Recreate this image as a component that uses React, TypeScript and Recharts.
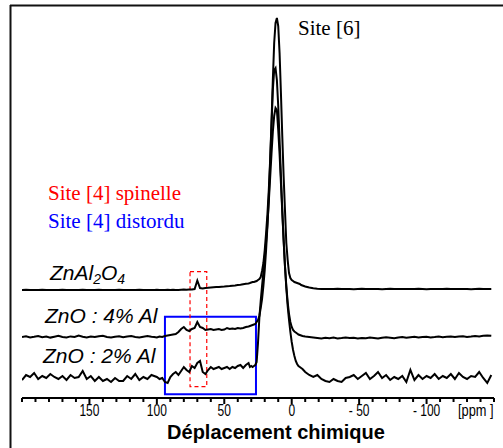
import { LineChart, Line, XAxis, YAxis, ReferenceArea } from "recharts";

// chemical shift grid (ppm), coarse on the baselines, 1 ppm across the main peak
const ppm = [
  200, 197, 194, 191, 188, 185, 182, 179, 176, 173, 170, 167, 164, 161, 158, 155, 152,
  149, 146, 143, 140, 137, 134, 131, 128, 125, 122, 119, 116, 113, 110, 107, 104,
  102, 100, 98, 96, 94, 92, 90, 88, 86, 84, 82, 80, 78, 76, 74, 72, 70, 68, 66, 64,
  62, 60, 58, 56, 54, 52, 50, 48, 46, 44, 42, 40, 38, 36, 34, 32,
  31, 30, 29, 28, 27, 26, 25, 24, 23, 22, 21, 20, 19, 18, 17, 16, 15, 14, 13, 12, 11,
  10, 9, 8, 7, 6, 5, 4, 3, 2, 1, 0, -1, -2, -3, -4, -5, -6, -7, -8,
  -10, -13, -16, -19, -22, -25, -28, -31, -34, -37, -40, -43, -46, -49, -52, -55,
  -58, -61, -64, -67, -70, -73, -76, -79, -82, -85, -88, -91, -94, -97, -100, -103,
  -106, -109, -112, -115, -118, -121, -124, -127, -130, -133, -136, -139, -142,
  -145, -148,
];

// stacked spectra (arbitrary intensity, offsets included)
const znAl2O4 = [
  108, 108.2, 107.9, 108.1, 108, 108.2, 107.9, 108, 108.1, 107.9, 108.2, 108, 108.1,
  107.9, 108, 108.2, 108.1, 107.9, 108, 108.2, 108, 107.9, 108.1, 108, 108.2, 107.9,
  108, 108.1, 108, 108.2, 107.9, 108.1, 108,
  108, 108.3, 107.9, 108.1, 108, 108.2, 108, 108.3, 108.1, 108, 108.2, 108.4, 108.3,
  108.5, 108.6, 109, 117.5, 110, 109.5, 110, 110.2, 110.5, 110.8, 111, 111, 111.3,
  111.5, 111.8, 112, 112.3, 112.6, 113, 113.3, 113.8, 114.2, 114.6,
  115, 115.5, 116, 116, 116.5, 117, 118, 119, 121, 127, 135, 148, 165, 184, 208, 238,
  275, 318, 355, 375, 380, 372, 345, 305, 262, 222, 188, 155, 138, 125, 120, 118, 117,
  116, 115.5, 115, 114.5, 114, 113, 112.5,
  111.5, 110.5, 109.8, 109.3, 109, 109.1, 108.9, 109, 109.2, 108.9, 109, 109.1, 108.8,
  109, 109.2, 109, 108.9, 109.1, 109, 108.8, 109, 109.2, 109, 108.9, 109, 109.1, 108.9,
  109, 109.2, 109, 108.8, 109, 109.1, 109, 108.9, 109.2, 109, 108.9, 109, 109.1, 109,
  108.8, 109, 109.2, 109, 108.9, 109,
];

const zno4Al = [
  61, 61.8, 60.6, 61.2, 62, 60.8, 61.5, 60.4, 61.3, 62.2, 61, 60.5, 61.6, 61, 62.4,
  61.2, 60.6, 61.5, 60.9, 61.7, 62.3, 61, 60.4, 61.2, 61.8, 60.7, 61.4, 62, 61.1, 60.6,
  61.3, 61.9, 61.2,
  61, 60.5, 61.5, 61, 62, 62.5, 63, 63.5, 64, 66, 69, 71, 68, 67, 69, 70, 76, 71, 70,
  68, 68.5, 69, 68, 68.5, 69, 68, 68.5, 70, 69, 69.5, 69, 70, 69.5, 70, 71, 71.5,
  72, 72.5, 73, 73.5, 74, 76, 78, 82, 90, 99, 112, 128, 148, 172, 200, 235, 272, 308,
  328, 330, 318, 292, 258, 222, 188, 158, 132, 112, 96, 84, 76, 71, 68, 66.5, 65.5,
  64.5, 63.5, 63, 62.5, 62,
  61.5, 61, 60.5, 60, 59.5, 60.2, 59.8, 60.4, 59.6, 60, 60.6, 59.9, 60.3, 59.5, 60.1,
  59.7, 60.4, 60, 59.4, 60.2, 60.8, 60.3, 59.8, 60.5, 61, 60.2, 60.7, 61.2, 60.4, 60.9,
  61.3, 60.6, 61, 61.5, 60.8, 61.2, 61.6, 60.9, 61.4, 61.8, 61.1, 61.5, 62, 61.6, 62.2,
  62.6, 62.3,
];

const zno2Al = [
  18, 23, 21, 25, 19, 22, 20, 24, 21, 19, 22, 18, 23, 20, 21, 27, 19, 22, 17, 21, 17,
  19, 16, 20, 17, 17, 22, 19, 24, 18, 21, 19, 23,
  22, 21, 19, 20, 16, 15, 21, 24, 26, 23, 27, 31, 28, 26, 32, 30, 35, 37, 26, 24, 28,
  31, 29, 30, 31, 29, 30, 31, 29, 31, 30, 32, 33, 30, 33, 35,
  31, 32, 31, 32, 33, 36, 55, 80, 97, 112, 126, 140, 156, 174, 196, 220, 244, 266, 282,
  290, 288, 268, 244, 215, 186, 158, 132, 110, 92, 78, 66, 56, 48, 42, 37, 34, 32, 31,
  30, 29,
  26, 23, 21, 23, 19, 17, 16, 19, 17, 16, 20, 21, 23, 19, 22, 25, 19, 22, 26, 20, 23,
  18, 21, 19, 22, 16, 28, 18, 23, 19, 22, 20, 24, 19, 22, 20, 24, 19, 25, 21, 19, 22,
  21, 26, 20, 15, 23,
];

const axisTicks = [
  200, 190, 180, 170, 160, 150, 140, 130, 120, 110, 100, 90, 80, 70, 60, 50, 40, 30,
  20, 10, 0, -10, -20, -30, -40, -50, -60, -70, -80, -90, -100, -110, -120, -130,
  -140, -150,
];
const labelledTicks = [150, 100, 50, 0, -50, -100];
const tickLabels = ["150", "100", "50", "0", "- 50", "- 100"];

const data = ppm.map((p, i) => ({
  ppm: p,
  znAl2O4: znAl2O4[i],
  zno4: zno4Al[i],
  zno2: zno2Al[i],
}));

const sans = '"Liberation Sans", Arial, sans-serif';
const serif = '"Liberation Serif", "Times New Roman", serif';

function PpmTick(props: any) {
  const { x, y, payload } = props;
  const idx = labelledTicks.indexOf(payload.value);
  return (
    <g>
      <line x1={x} x2={x} y1={y} y2={y + (idx >= 0 ? 6 : 4)} stroke="#000" strokeWidth={2} />
      {idx >= 0 && (
        <text
          transform={`translate(${x},${y + 18}) scale(0.75,1)`}
          textAnchor="middle"
          fontFamily={sans}
          fontSize={16}
          fill="#000"
        >
          {tickLabels[idx]}
        </text>
      )}
    </g>
  );
}

export default function App() {
  return (
    <div style={{ position: "absolute", left: 0, top: 0, width: 503, height: 448, background: "#fff" }}>
      <LineChart width={503} height={448} data={data} margin={{ top: 5, right: 9, bottom: 0, left: 22 }}>
        <XAxis
          dataKey="ppm"
          type="number"
          domain={[-150, 200]}
          reversed
          allowDataOverflow
          ticks={axisTicks}
          interval={0}
          tickLine={false}
          tickSize={0}
          tickMargin={0}
          tick={(p: any) => <PpmTick {...p} />}
          axisLine={{ stroke: "#000", strokeWidth: 2 }}
          height={50}
        />
        <YAxis hide type="number" domain={[0, 393]} allowDataOverflow />
        <ReferenceArea x1={94} x2={26.5} y1={3.7} y2={81.3} fill="none" stroke="#0000ff" strokeWidth={2} fillOpacity={0} />
        <ReferenceArea x1={75.4} x2={63} y1={11.3} y2={126.3} fill="none" stroke="#ff0000" strokeWidth={1.2} strokeDasharray="4 3" fillOpacity={0} />
        <Line dataKey="znAl2O4" type="linear" stroke="#000" strokeWidth={2} dot={false} isAnimationActive={false} />
        <Line dataKey="zno4" type="linear" stroke="#000" strokeWidth={2} dot={false} isAnimationActive={false} />
        <Line dataKey="zno2" type="linear" stroke="#000" strokeWidth={2} dot={false} isAnimationActive={false} />
      </LineChart>
      <svg width={503} height={448} style={{ position: "absolute", left: 0, top: 0, pointerEvents: "none" }}>
        <line x1={10} x2={503} y1={5.5} y2={5.5} stroke="#111" strokeWidth={2} />
        <line x1={10.5} x2={10.5} y1={5} y2={448} stroke="#111" strokeWidth={2} />
        <text x={298} y={35} fontFamily={serif} fontSize={21} fill="#000">Site [6]</text>
        <text x={48} y={200} fontFamily={serif} fontSize={21} fill="#ff0000">Site [4] spinelle</text>
        <text x={48} y={228} fontFamily={serif} fontSize={21} fill="#0000ff">Site [4] distordu</text>
        <text x={50} y={280} fontFamily={sans} fontSize={21} fontStyle="italic" fill="#000">
          ZnAl<tspan fontSize={14} dy={4}>2</tspan>
          <tspan dy={-4}>O</tspan>
          <tspan fontSize={14} dy={4}>4</tspan>
        </text>
        <text x={45} y={323} fontFamily={sans} fontSize={21} fontStyle="italic" fill="#000">ZnO : 4% Al</text>
        <text x={43} y={363} fontFamily={sans} fontSize={21} fontStyle="italic" fill="#000">ZnO : 2% Al</text>
        <text transform="translate(458,416) scale(0.8,1)" fontFamily={sans} fontSize={16} fill="#000">[ppm ]</text>
        <text x={276} y={438.5} textAnchor="middle" fontFamily={sans} fontSize={20} fontWeight="bold" fill="#000">
          Déplacement chimique
        </text>
      </svg>
    </div>
  );
}
